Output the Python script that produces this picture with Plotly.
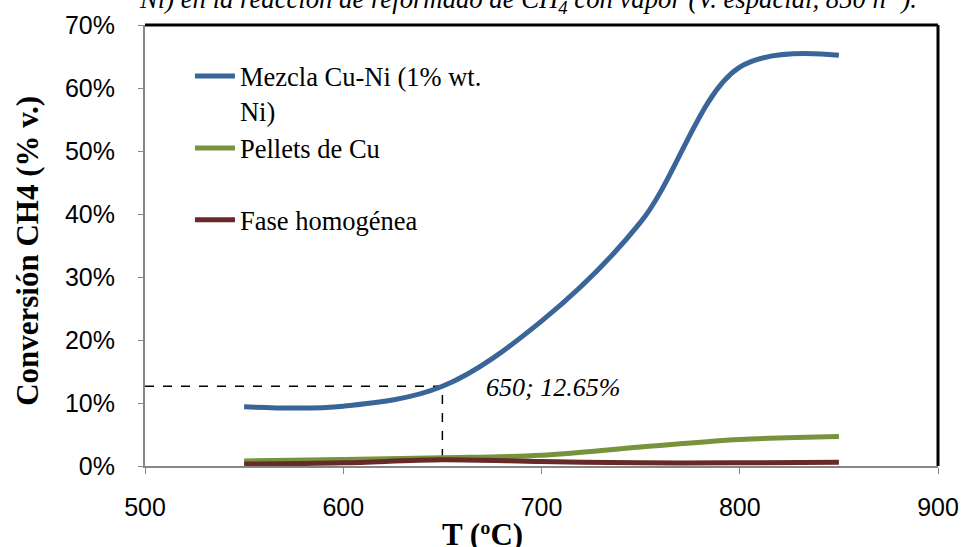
import plotly.graph_objects as go

temps = [550, 600, 650, 700, 750, 800, 850]
mezcla = [9.4, 9.5, 12.65, 23.0, 38.7, 63.3, 65.2]
pellets = [0.8, 1.05, 1.3, 1.7, 3.0, 4.2, 4.7]
homog = [0.3, 0.5, 1.0, 0.7, 0.5, 0.5, 0.6]
mark_t = 650
mark_v = 12.65
x_ticks = [500, 600, 700, 800, 900]
y_ticks = [0, 10, 20, 30, 40, 50, 60, 70]

serif = "Liberation Serif, Times New Roman, serif"
sans = "Liberation Sans, Arial, sans-serif"

fig = go.Figure()
fig.add_trace(go.Scatter(x=[500, mark_t, mark_t], y=[mark_v / 100, mark_v / 100, 0],
                         mode="lines", line=dict(color="black", width=1.5, dash="dash"),
                         showlegend=False, hoverinfo="skip"))
fig.add_trace(go.Scatter(x=temps, y=[v / 100 for v in mezcla], mode="lines",
                         name="Mezcla Cu-Ni (1% wt.<br>Ni)", legendgroup="a",
                         line=dict(color="#3A6598", width=5, shape="spline")))
fig.add_trace(go.Scatter(x=temps, y=[v / 100 for v in pellets], mode="lines",
                         name="Pellets de Cu<br> ", legendgroup="b",
                         line=dict(color="#77933C", width=5, shape="spline")))
fig.add_trace(go.Scatter(x=temps, y=[v / 100 for v in homog], mode="lines",
                         name="Fase homogénea", legendgroup="c",
                         line=dict(color="#672A28", width=5, shape="spline")))

fig.add_annotation(x=671, y=mark_v / 100, xref="x", yref="y", xanchor="left",
                   yanchor="middle", showarrow=False, yshift=-1,
                   text="<i>650; 12.65%</i>", font=dict(family=serif, size=26, color="black"))
fig.add_annotation(x=-0.010, y=1.059, xref="paper", yref="paper", xanchor="left", yanchor="middle",
                   showarrow=False,
                   text="<i>Ni) en la reacción de reformado de CH<sub>4</sub> con vapor (V. espacial, 850 h<sup>-1</sup>).</i>",
                   font=dict(family=serif, size=26.7, color="black"))
fig.add_annotation(x=0.426, y=-0.155, xref="paper", yref="paper", xanchor="center", yanchor="middle",
                   showarrow=False, text="<b>T (ºC)</b>",
                   font=dict(family=serif, size=31, color="black"))
fig.add_annotation(x=-0.149, y=0.4875, xref="paper", yref="paper", xanchor="center", yanchor="middle",
                   showarrow=False, textangle=-90, text="<b>Conversión CH4 (% v.)</b>",
                   font=dict(family=serif, size=31, color="black"))

fig.add_shape(type="line", xref="paper", yref="paper", x0=0, x1=1, y0=1, y1=1,
              line=dict(color="black", width=3))
fig.add_shape(type="line", xref="paper", yref="paper", x0=1, x1=1, y0=0, y1=1,
              line=dict(color="black", width=3))

fig.update_layout(
    width=964, height=547,
    margin=dict(l=145, r=26, t=25, b=81, autoexpand=False),
    plot_bgcolor="white", paper_bgcolor="white",
    legend=dict(x=0.0567, y=0.938, xanchor="left", yanchor="top", valign="top",
                itemwidth=40,
                font=dict(family=serif, size=26.5, color="black"),
                tracegroupgap=0, bgcolor="rgba(0,0,0,0)"),
    xaxis=dict(range=[500, 900], tickvals=x_ticks, showgrid=False, zeroline=False,
               automargin=False,
               showline=True, linecolor="#868686", linewidth=2, ticks="outside",
               tickcolor="#868686", ticklen=6, ticklabelstandoff=12,
               tickfont=dict(family=sans, size=25, color="black")),
    yaxis=dict(range=[0, 0.7], tickvals=[v / 100 for v in y_ticks], tickformat=".0%",
               automargin=False,
               showgrid=False, zeroline=False, showline=True, linecolor="#868686",
               linewidth=2, ticks="outside", tickcolor="#868686", ticklen=5,
               ticklabelstandoff=18,
               tickfont=dict(family=sans, size=25, color="black")),
)

fig.write_html("out.html", config={"displayModeBar": False},
               post_script="document.body.style.margin='0';")
